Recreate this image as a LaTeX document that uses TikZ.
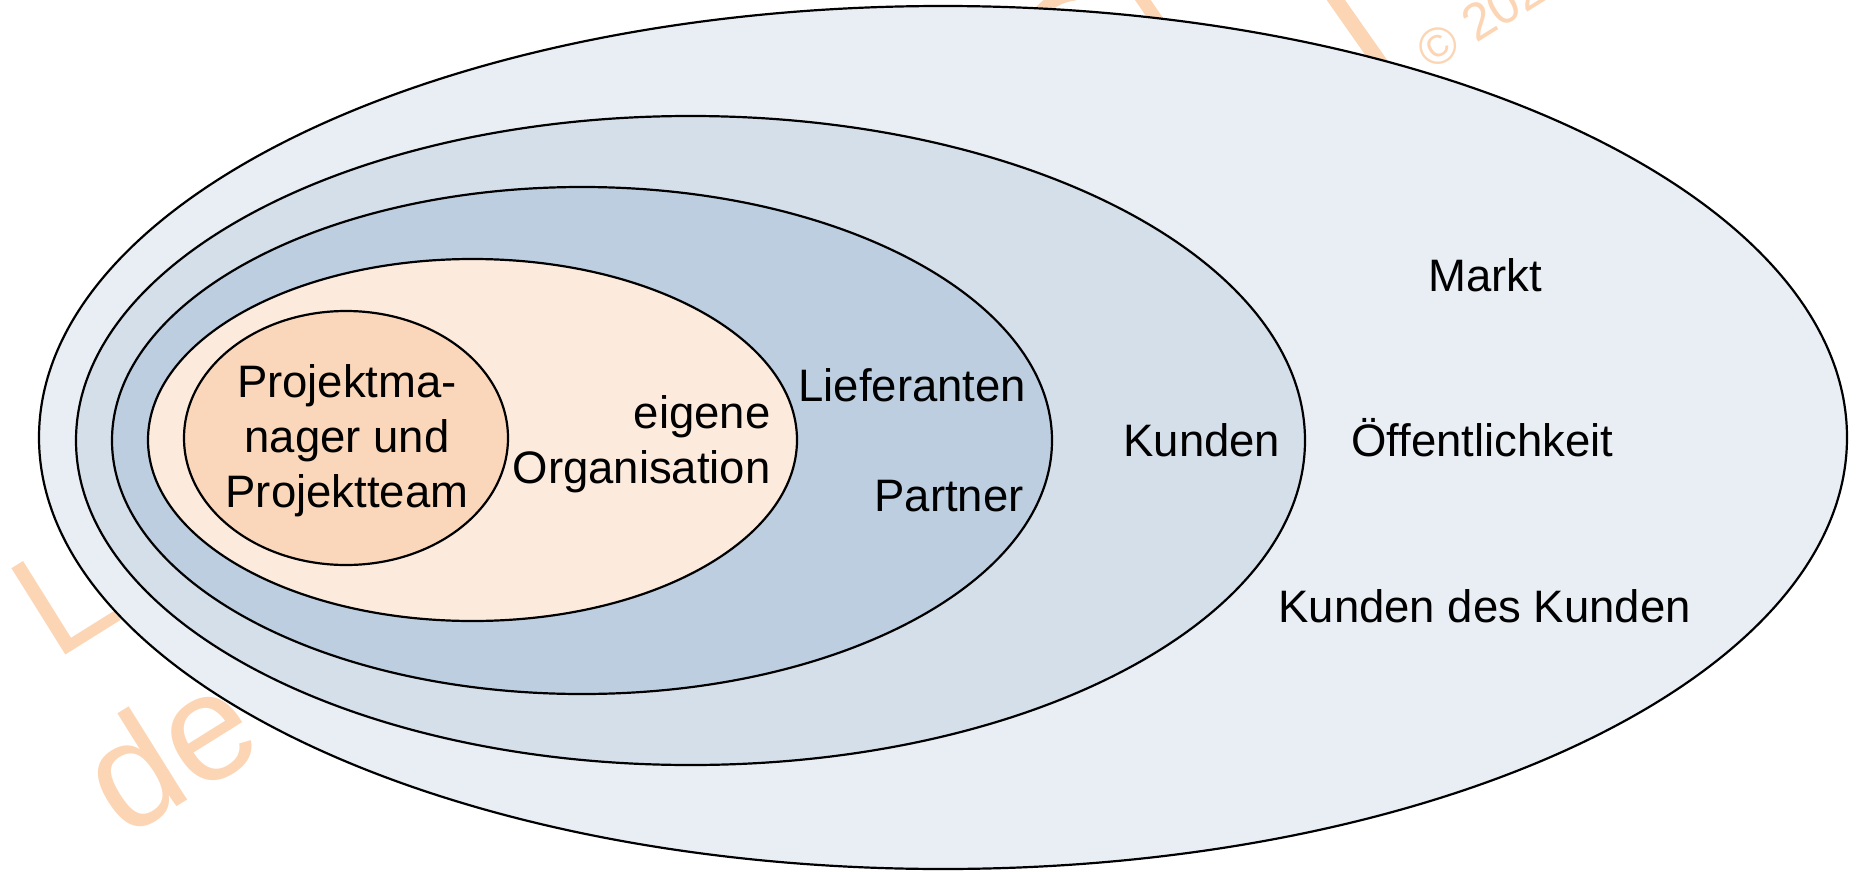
\documentclass[tikz,border=0pt]{standalone}
\usepackage{fontspec}
\setmainfont{Liberation Sans}
\usetikzlibrary{shapes.geometric}
\definecolor{c1}{HTML}{E9EEF5}
\definecolor{c2}{HTML}{D5DFEA}
\definecolor{c3}{HTML}{BDCEE0}
\definecolor{c4}{HTML}{FCEADD}
\definecolor{c5}{HTML}{FAD7BA}
\definecolor{wm}{HTML}{FCD5B4}
\begin{document}
\begin{tikzpicture}[x=0.5pt,y=-0.5pt,
  ring/.style={ellipse, draw=black, line width=1.1pt, inner sep=0pt, outer sep=0pt},
  lbl/.style={font=\fontsize{22.75}{27.3}\selectfont, inner sep=0pt},
  wmark/.style={text=wm, inner sep=0pt, rotate=32, anchor=base west},
  wmstroke/.style={draw=wm, line width=6.5pt}]
\useasboundingbox (0,0) rectangle (1857,872);
% watermark fragments (behind the rings)
\node[wmark, font=\fontsize{74}{89}\selectfont] (wmL) at (55,662) {L};
\node[wmark, font=\fontsize{76}{91}\selectfont] (wmde) at (124,840) {de};
\node[wmark, font=\fontsize{26}{31}\selectfont] (wmc) at (1431,72) {\char"00A9\ 2020};
\draw[wmstroke] (1030,30) .. controls (1040,5) and (1058,-4) .. (1075,-6);
\draw[wmstroke] (1136,-10) -- (1162,28);
\draw[wmstroke, line width=7.5pt] (1326,-14) -- (1392,80);
% rings
\node[ring, fill=c1, minimum width=904pt, minimum height=431.5pt] (markt) at (943,437.5) {};
\node[ring, fill=c2, minimum width=614.5pt, minimum height=324.5pt] (kunden) at (690.5,440.5) {};
\node[ring, fill=c3, minimum width=470pt, minimum height=253.5pt] (partner) at (582,440.5) {};
\node[ring, fill=c4, minimum width=324.5pt, minimum height=181pt] (org) at (472.5,440) {};
\node[ring, fill=c5, minimum width=162pt, minimum height=127pt] (team) at (346,438) {};
% labels
\node[lbl, anchor=base] (pm1) at (347,397) {Projektma-};
\node[lbl, anchor=base] (pm2) at (347,452) {nager und};
\node[lbl, anchor=base] (pm3) at (347,507) {Projektteam};
\node[lbl, anchor=base east] (eo1) at (771,428) {eigene};
\node[lbl, anchor=base east] (eo2) at (771,483) {Organisation};
\node[lbl, anchor=base west] (lief) at (798,401) {Lieferanten};
\node[lbl, anchor=base east] (part) at (1024,511) {Partner};
\node[lbl, anchor=base west] (kd) at (1123,456) {Kunden};
\node[lbl, anchor=base west] (mk) at (1428,291) {Markt};
\node[lbl, anchor=base west] (oe) at (1351,456) {Öffentlichkeit};
\node[lbl, anchor=base west] (kdk) at (1278,622) {Kunden des Kunden};
\end{tikzpicture}
\end{document}
